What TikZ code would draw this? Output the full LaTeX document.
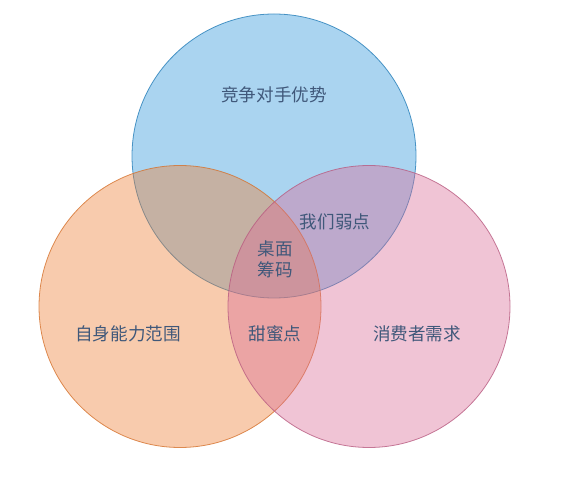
\documentclass[tikz,border=0pt]{standalone}
\usepackage{fontspec}
\newfontfamily\cjk{Noto Sans CJK SC}
\usetikzlibrary{shapes,positioning}

\definecolor{rivalblue}{RGB}{42,147,217}
\definecolor{selforange}{RGB}{237,125,49}
\definecolor{needpink}{RGB}{217,107,150}
\definecolor{labelgray}{RGB}{64,88,122}

\begin{document}
\begin{tikzpicture}[font=\cjk\fontsize{10pt}{12pt}\selectfont]
\useasboundingbox (0,0) rectangle (11.44,9.70);
\node[circle, draw=rivalblue!85!black, draw opacity=0.8, fill=rivalblue, fill opacity=0.4, line width=0.45pt, minimum size=5.68cm] (rival) at (5.48,6.58) {};
\node[circle, draw=selforange!90!black, draw opacity=0.8, fill=selforange, fill opacity=0.4, line width=0.45pt, minimum size=5.64cm] (self) at (3.60,3.57) {};
\node[circle, draw=needpink!85!black, draw opacity=0.8, fill=needpink, fill opacity=0.4, line width=0.45pt, minimum size=5.64cm] (need) at (7.38,3.57) {};
\node[text=labelgray] (rivaltext) at (5.48,7.80) {竞争对手优势};
\node[text=labelgray] (weak) at (6.70,5.26) {我们弱点};
\node[text=labelgray, align=center] (chips) at (5.50,4.51) {桌面\\筹码};
\node[text=labelgray] (sweet) at (5.50,3.02) {甜蜜点};
\node[text=labelgray] (selftext) at (2.56,3.02) {自身能力范围};
\node[text=labelgray] (needtext) at (8.34,3.02) {消费者需求};
\end{tikzpicture}
\end{document}
